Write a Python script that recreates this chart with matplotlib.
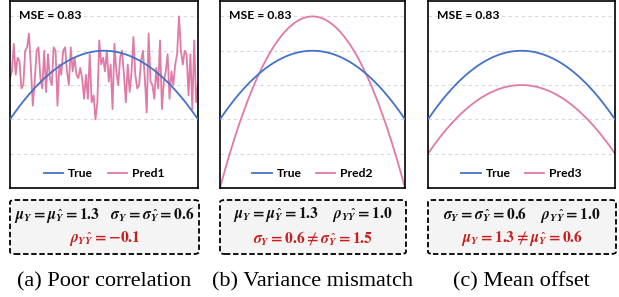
import numpy as np
import matplotlib
matplotlib.use("Agg")
import matplotlib.pyplot as plt
from matplotlib.patches import FancyBboxPatch

plt.rcParams['mathtext.fontset'] = 'custom'
plt.rcParams['mathtext.rm'] = 'STIXGeneral:bold'
plt.rcParams['mathtext.bf'] = 'STIXGeneral:bold'
plt.rcParams['mathtext.it'] = 'STIXGeneral:italic:bold'

# data
n_true = 100
u = np.linspace(-1, 1, n_true)
true_y = 4 - 2 * u ** 2
pred2 = 5 - 5 * u ** 2
pred3 = true_y - 1
pred1 = [3.2, 3.4, 4.2, 3.3, 3.8, 3.7, 2.9, 3.0, 4.0, 4.1, 4.5, 3.5, 2.4, 3.1, 4.0, 4.1, 3.2, 2.9, 4.0, 2.8,
         3.9, 3.2, 3.0, 4.1, 4.0, 2.4, 3.6, 3.3, 4.0, 4.1, 3.4, 3.0, 4.1, 3.4, 3.8, 3.3, 3.2, 3.5, 3.2, 2.6,
         3.3, 2.6, 3.9, 2.5, 2.7, 2.0, 2.5, 4.3, 3.6, 3.8, 3.4, 4.0, 3.1, 3.6, 2.3, 4.2, 3.4, 3.0, 3.8, 4.0,
         3.3, 2.5, 3.6, 2.8, 3.4, 4.4, 3.3, 2.9, 3.0, 3.7, 4.0, 3.2, 2.2, 4.5, 3.1, 3.0, 2.6, 3.5, 2.9, 4.3,
         2.3, 3.1, 3.4, 3.9, 2.6, 3.4, 3.0, 3.6, 3.9, 5.0, 4.0, 3.6, 4.0, 3.9, 2.7, 3.9, 2.3, 4.3, 2.5, 3.0]
preds = [pred1, pred2, pred3]
pred_names = ['Pred1', 'Pred2', 'Pred3']
mse_text = 'MSE = 0.83'
line1 = [r'$\mu_Y = \mu_{\hat{Y}} = 1.3\ \ \ \sigma_Y = \sigma_{\hat{Y}} = 0.6$',
         r'$\mu_Y = \mu_{\hat{Y}} = 1.3\ \ \ \ \rho_{Y\hat{Y}} = 1.0$',
         r'$\sigma_Y = \sigma_{\hat{Y}} = 0.6\ \ \ \ \rho_{Y\hat{Y}} = 1.0$']
line2 = [r'$\rho_{Y\hat{Y}} = -0.1$',
         r'$\sigma_Y = 0.6 \neq \sigma_{\hat{Y}} = 1.5$',
         r'$\mu_Y = 1.3 \neq \mu_{\hat{Y}} = 0.6$']
captions = ['(a) Poor correlation', '(b) Variance mismatch', '(c) Mean offset']

BLUE = '#4472C4'
PINK = '#E07AA6'
RED = '#C81E1E'

W, H = 619, 297
fig = plt.figure(figsize=(W / 100, H / 100), dpi=100)
lefts = [10, 220, 428]
widths = [188, 185, 187]

for i in range(3):
    l, w = lefts[i], widths[i]
    ax = fig.add_axes([l / W, (H - 188) / H, w / W, 187 / H])
    x_true = np.arange(n_true)
    ax.plot(x_true, true_y, color=BLUE, lw=1.3, label='True', zorder=3)
    xp = np.linspace(0, n_true - 1, len(preds[i]))
    ax.plot(xp, preds[i], color=PINK, lw=1.3, label=pred_names[i], zorder=2)
    ax.set_xlim(0, n_true - 1)
    ax.set_ylim(0, 5.45)
    for g in [1, 2, 3, 4, 5]:
        ax.axhline(g, color='#D9D9D9', lw=0.8, ls=(0, (3, 3)), zorder=1)
    ax.set_xticks([])
    ax.set_yticks([])
    for s in ax.spines.values():
        s.set_linewidth(1.2)
        s.set_color('black')
    ax.text(0.05, 0.925, mse_text, transform=ax.transAxes, fontsize=8.7,
            family='Lato', fontweight='bold', va='center', ha='left')
    leg = ax.legend(loc='lower center', ncol=2, frameon=False,
                    prop={'family': 'Lato', 'weight': 'bold', 'size': 8.7},
                    handlelength=1.6, columnspacing=1.2, handletextpad=0.4,
                    bbox_to_anchor=(0.5, -0.01))

    # stats box
    bx0, bx1 = l, l + w + 1
    box = FancyBboxPatch(((bx0) / W, (H - 254) / H), (bx1 - bx0) / W, 54 / H,
                         boxstyle='round,pad=0,rounding_size=0.008',
                         transform=fig.transFigure, facecolor='#F4F4F4',
                         edgecolor='black', lw=1.3, ls=(0, (3, 1.5)))
    fig.add_artist(box)
    cx = (bx0 + bx1) / 2 / W
    fig.text(cx, (H - 215) / H, line1[i], ha='center', va='center', fontsize=11.2, color='#111111')
    fig.text(cx, (H - 238) / H, line2[i], ha='center', va='center', fontsize=11.2, color=RED)
    fig.text((l + w / 2) / W, (H - 282) / H, captions[i], ha='center', va='center',
             fontsize=16, family='Liberation Serif')

fig.savefig('out.png', dpi=100)
